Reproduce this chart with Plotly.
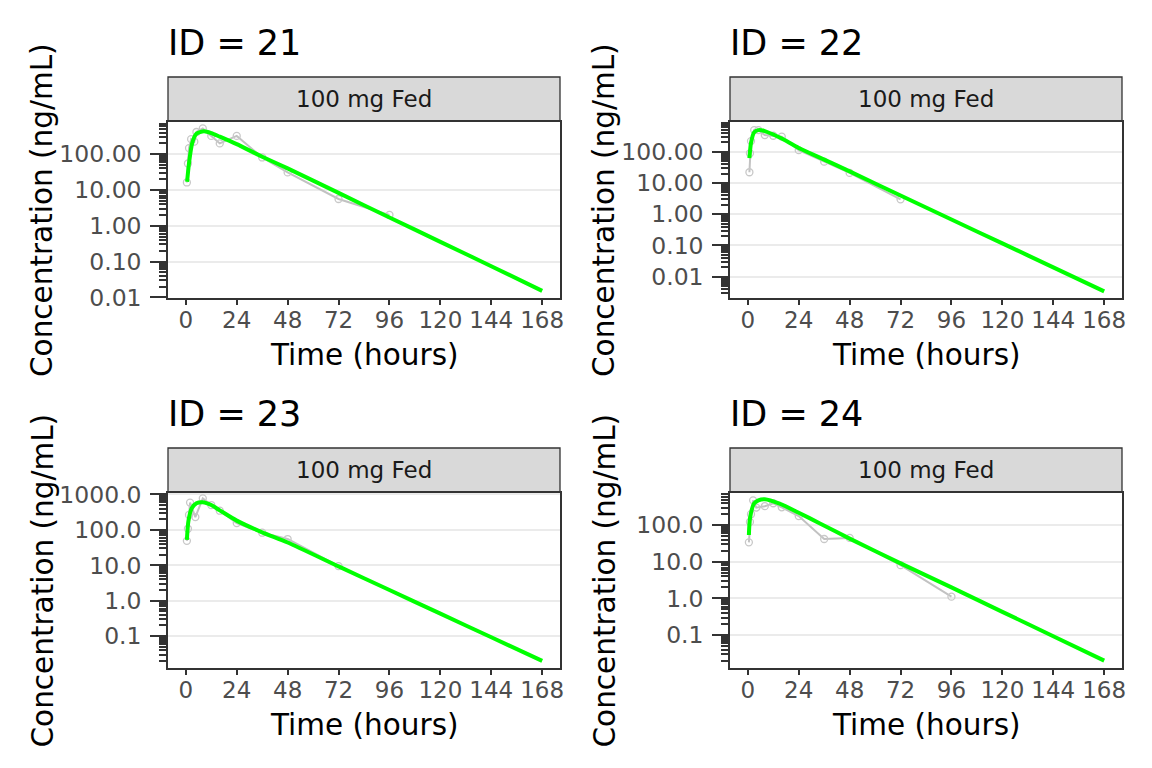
import plotly.graph_objects as go

# observed concentrations (ng/mL) per subject
ids = [21, 22, 23, 24]
strip_label = "100 mg Fed"

obs_t_21 = [0.5, 1, 1.5, 2.5, 4, 5, 8, 12, 16, 24, 36, 48, 72, 96]
obs_c_21 = [16.2, 55, 148, 263, 224, 417, 525, 324, 200, 324, 81, 31, 5.6, 2.0]
obs_t_22 = [0.75, 1, 1.5, 3, 5, 8, 12, 16, 24, 36, 48, 72]
obs_c_22 = [22, 89, 219, 490, 490, 339, 324, 302, 112, 48, 21, 3.0]
obs_t_23 = [0.5, 1, 1.5, 2, 4.5, 8, 12, 16, 24, 36, 48, 72]
obs_c_23 = [49, 107, 263, 589, 229, 776, 501, 347, 155, 83, 55, 9.5]
obs_t_24 = [0.5, 1, 1.5, 2.5, 4, 8, 12, 16, 24, 36, 48, 72, 96]
obs_c_24 = [34, 123, 200, 479, 302, 331, 398, 309, 178, 42, 45, 8.1, 1.12]

# fitted curves
fit_t_21 = [0.6, 1.5, 3, 5, 8.5, 12, 16, 24, 36, 48, 72, 96, 120, 144, 168]
fit_c_21 = [17, 56, 204, 372, 437, 389, 309, 191, 85, 40, 8.3, 1.7, 0.355, 0.074, 0.0151]
fit_t_22 = [0.75, 1.5, 3, 5, 8, 12, 16, 24, 36, 48, 72, 96, 120, 144, 168]
fit_c_22 = [62, 191, 417, 490, 457, 355, 263, 132, 56, 23.4, 3.98, 0.676, 0.117, 0.020, 0.0034]
fit_t_23 = [0.5, 1.2, 2.8, 5, 8, 12, 16, 24, 36, 48, 72, 96, 120, 144, 168]
fit_c_23 = [52, 174, 407, 562, 603, 501, 355, 182, 85, 44, 9.3, 2.0, 0.43, 0.093, 0.020]
fit_t_24 = [0.5, 1, 2.9, 5, 8, 15, 24, 34, 48, 72, 96, 120, 144, 168]
fit_c_24 = [54, 151, 389, 479, 513, 389, 219, 112, 43, 9.1, 2.0, 0.43, 0.093, 0.020]

x_ticks = [0, 24, 48, 72, 96, 120, 144, 168]
y_ticks = [0.01, 0.1, 1, 10, 100, 1000]
y_text_2dp = ["0.01", "0.10", "1.00", "10.00", "100.00", "1000.00"]
y_text_1dp = ["0.0", "0.1", "1.0", "10.0", "100.0", "1000.0"]

W, H = 1152, 768
OFF = 8  # page body margin
def px(p): return (p - OFF) / W
def py(p): return 1 - (p - OFF) / H

# pixel boxes of the four panels: (left, right, top, bottom)
panels = [
    (168, 560, 122, 298),
    (730, 1122, 122, 298),
    (168, 560, 493, 668),
    (730, 1122, 493, 668),
]
y_ranges = [[-2.02, 2.90], [-2.68, 2.95], [-1.90, 3.04], [-1.90, 2.88]]
y_texts = [y_text_2dp, y_text_2dp, y_text_1dp, y_text_1dp]

obs = [(obs_t_21, obs_c_21), (obs_t_22, obs_c_22), (obs_t_23, obs_c_23), (obs_t_24, obs_c_24)]
fits = [(fit_t_21, fit_c_21), (fit_t_22, fit_c_22), (fit_t_23, fit_c_23), (fit_t_24, fit_c_24)]

font = "DejaVu Sans"
fig = go.Figure()
shapes = []
annotations = []

for i, (l, r, t, b) in enumerate(panels):
    n = "" if i == 0 else str(i + 1)
    xa, ya = f"x{n}", f"y{n}"
    ot, oc = obs[i]
    ft, fc = fits[i]
    fig.add_trace(go.Scatter(x=ot, y=oc, mode="lines+markers", xaxis=xa, yaxis=ya,
                             line=dict(color="#C2C2C2", width=2),
                             marker=dict(symbol="circle-open", size=7, color="#C8C8C8", line=dict(width=1.3)),
                             showlegend=False, hoverinfo="skip"))
    fig.add_trace(go.Scatter(x=ft, y=fc, mode="lines", xaxis=xa, yaxis=ya,
                             line=dict(color="#00FF00", width=4, shape="spline", smoothing=0.6),
                             showlegend=False, hoverinfo="skip"))

    fig.layout[f"xaxis{n}"] = dict(
        domain=[px(l), px(r)], anchor=ya, range=[-8.4, 176.4], automargin=False,
        tickvals=x_ticks, ticks="outside", ticklen=5, tickwidth=1.5, tickcolor="#333333",
        ticklabelstandoff=-4,
        tickfont=dict(family=font, size=23, color="#4D4D4D"),
        showgrid=False, zeroline=False, showline=True, mirror=True,
        linecolor="#333333", linewidth=1.5)
    fig.layout[f"yaxis{n}"] = dict(
        domain=[py(b), py(t)], anchor=xa, type="log", range=y_ranges[i], automargin=False,
        tickvals=y_ticks, ticktext=y_texts[i], ticks="outside", ticklen=16, tickwidth=2,
        tickcolor="#333333", ticklabelstandoff=4,
        tickfont=dict(family=font, size=23.5, color="#4D4D4D"),
        minor=dict(dtick="D1", ticks="outside", ticklen=7, tickwidth=2, tickcolor="#333333", showgrid=False),
        showgrid=True, gridcolor="#EBEBEB", gridwidth=1.5, zeroline=False,
        showline=True, mirror=True, linecolor="#333333", linewidth=1.5)

    # strip
    shapes.append(dict(type="rect", xref="paper", yref="paper",
                       x0=px(l), x1=px(r), y0=py(t - 1), y1=py(t - 45),
                       fillcolor="#D9D9D9", line=dict(color="#333333", width=1.3), layer="below"))
    annotations.append(dict(text=strip_label, xref="paper", yref="paper", x=px((l + r) / 2), y=py(t - 23),
                            showarrow=False, font=dict(family=font, size=23, color="#1A1A1A"),
                            xanchor="center", yanchor="middle"))
    # panel title
    annotations.append(dict(text=f"ID = {ids[i]}", xref="paper", yref="paper", x=px(l - 2), y=py(t - 79),
                            showarrow=False, font=dict(family=font, size=35, color="black"),
                            xanchor="left", yanchor="middle"))
    # axis titles
    annotations.append(dict(text="Time (hours)", xref="paper", yref="paper", x=px((l + r) / 2), y=py(b + 57),
                            showarrow=False, font=dict(family=font, size=29.5, color="black"),
                            xanchor="center", yanchor="middle"))
    annotations.append(dict(text="Concentration (ng/mL)", xref="paper", yref="paper", x=px(l - 126),
                            y=py((t + b) / 2), textangle=-90, showarrow=False,
                            font=dict(family=font, size=29.5, color="black"),
                            xanchor="center", yanchor="middle"))

fig.update_layout(width=W, height=H, margin=dict(l=0, r=0, t=0, b=0),
                  paper_bgcolor="white", plot_bgcolor="white",
                  shapes=shapes, annotations=annotations, font=dict(family=font))

fig.write_html("out.html")
